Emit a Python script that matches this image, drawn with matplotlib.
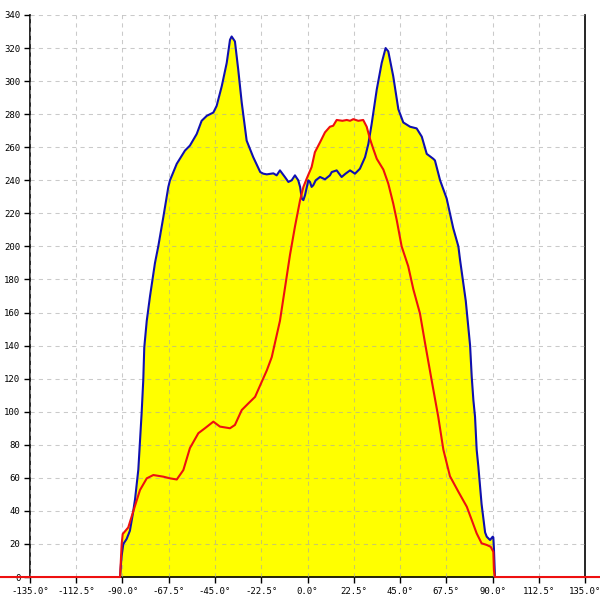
import matplotlib
matplotlib.use("Agg")
import matplotlib.pyplot as plt
import numpy as np

# Blue series (angle in degrees, value)
blue_x = [-91.2, -90.5, -89.6, -88.0, -86.4, -85.0, -83.9, -82.3, -80.7, -79.9, -79.4, -78.2,
          -76.6, -74.2, -72.6, -70.1, -67.7, -66.9, -63.6, -59.6, -57.2, -53.9, -51.5, -49.0,
          -45.8, -44.2, -41.7, -39.3, -37.7, -36.9, -35.3, -33.7, -32.0, -29.6, -26.4, -23.0,
          -21.5, -19.8, -16.6, -15.0, -13.4, -11.0, -9.3, -7.7, -6.1, -4.5, -3.6, -2.8, -2.0,
          -1.2, 0.4, 1.2, 2.0, 2.8, 4.0, 6.1, 8.5, 10.9, 11.8, 14.2, 16.6, 18.5, 20.7, 23.1,
          25.5, 28.0, 29.6, 31.2, 33.7, 36.1, 38.0, 39.3, 41.7, 44.2, 46.6, 49.9, 53.1, 55.6,
          58.0, 61.2, 62.0, 64.5, 67.7, 70.9, 73.4, 74.2, 77.0, 79.1, 79.9, 80.7, 81.5, 82.3,
          83.1, 84.7, 86.4, 87.2, 88.8, 90.1, 90.4, 90.7, 91.2]
blue_y = [0, 12, 20, 23, 28, 38, 47, 65, 99, 119, 139, 155,
          170, 190, 200, 218, 236, 240, 250, 258, 261, 268, 276, 279,
          281, 285, 297, 311, 325, 327, 324, 307, 287, 264, 254, 245,
          244, 243.6, 244.2, 243, 246, 242, 239, 240, 243, 240, 236, 229, 228,
          231, 240, 239, 236, 237, 240, 242, 240.6, 243, 245, 246, 242, 244, 246, 244,
          247, 254, 262, 274, 295, 311, 320, 318, 303, 283, 275, 272.4, 271.4, 266.4,
          256, 253, 252, 240, 229, 211, 200, 192, 167, 140, 121, 107, 97, 77,
          67, 44, 27, 24.4, 22.4, 24.4, 24, 17, 0]

# Red series
red_x = [-150.0, -91.2, -90.4, -89.9, -87.2, -84.7, -81.5, -78.2, -75.0, -70.1, -66.9, -63.6,
         -60.4, -57.2, -53.1, -49.9, -45.8, -42.6, -37.7, -35.3, -32.0, -28.8, -25.5, -22.3,
         -19.8, -17.4, -13.4, -8.5, -6.1, -3.6, -2.0, -0.4, 2.0, 3.6, 6.1, 8.5, 10.9, 12.5,
         14.2, 17.0, 19.1, 20.7, 22.3, 24.7, 27.1, 28.8, 30.4, 32.0, 33.7, 36.9, 39.3, 41.7,
         43.4, 45.8, 49.0, 51.5, 54.7, 57.2, 60.4, 63.6, 66.1, 69.3, 73.4, 77.5, 79.9, 82.3,
         84.7, 87.2, 89.1, 90.4, 90.7, 91.2, 145.0]
red_y = [0, 0, 20, 26, 30, 40, 52.6, 59.7, 61.7, 60.7, 59.7, 59,
         64.7, 78, 87, 90, 94, 91, 90, 92, 101, 105, 109, 118,
         125, 133, 155, 195, 212, 228, 236, 241, 248, 257, 263, 269, 272.4, 273,
         276.5, 276, 276.5, 276, 277, 276, 276.5, 272.4, 265, 259, 253, 246.5, 238, 226,
         216, 200, 188, 174, 159.5, 141.4, 119, 97, 77, 61, 51.6, 42.5, 34.5, 26.4,
         20.4, 19.4, 18.3, 15.3, 4, 0, 0]

x_ticks = [-135.0, -112.5, -90.0, -67.5, -45.0, -22.5, 0.0, 22.5, 45.0, 67.5, 90.0, 112.5, 135.0]
x_tick_labels = [f"{v:.1f}°" for v in x_ticks]
y_ticks = list(range(0, 341, 20))

fig = plt.figure(figsize=(6, 6), dpi=100)
ax = fig.add_axes([0.05, 0.0383, 0.925, 0.9367])

ax.fill_between(blue_x, 0, blue_y, color="#ffff00", linewidth=0, zorder=1)
ax.fill_between(red_x, 0, red_y, color="#ffff00", linewidth=0, zorder=1)
ax.plot(blue_x, blue_y, color="#1010b0", linewidth=1.5, zorder=3)
ax.plot(red_x, red_y, color="#ee1010", linewidth=1.5, zorder=4, clip_on=False)

ax.set_xlim(-135, 135)
ax.set_ylim(0, 340)
ax.set_xticks(x_ticks)
ax.set_xticklabels(x_tick_labels)
ax.set_yticks(y_ticks)
ax.set_yticklabels([str(v) for v in y_ticks])

ax.set_axisbelow(False)
ax.grid(True, color="#a8a8a8", alpha=0.6, linestyle=(0, (4, 4)), linewidth=0.75, zorder=2)

for lbl in ax.get_xticklabels() + ax.get_yticklabels():
    lbl.set_fontfamily("DejaVu Sans Mono")
    lbl.set_fontsize(6.5)

ax.tick_params(axis="both", direction="out", length=4, width=1, color="black", pad=3)
ax.spines["top"].set_visible(False)
for s in ["left", "right", "bottom"]:
    ax.spines[s].set_color("black")
    ax.spines[s].set_linewidth(1.2)

fig.savefig("out.png", dpi=100)
